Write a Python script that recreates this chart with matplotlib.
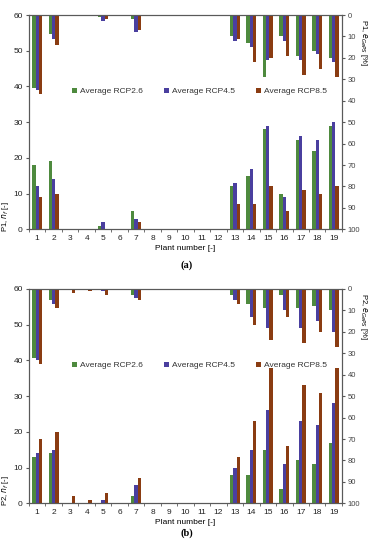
import matplotlib
matplotlib.use("Agg")
import matplotlib.pyplot as plt
import numpy as np

plt.rcParams['font.family'] = ['Liberation Sans', 'DejaVu Sans']

plants = list(range(1, 20))
series = ["Average RCP2.6", "Average RCP4.5", "Average RCP8.5"]
colors = ["#4e8a3e", "#4a3f9f", "#8a3c12"]

# Panel (a) P1: n_f [-] (left axis)
p1_nf_26 = [18, 19, 0, 0, 1, 0, 5, 0, 0, 0, 0, 0, 12, 15, 28, 10, 25, 22, 29]
p1_nf_45 = [12, 14, 0, 0, 2, 0, 3, 0, 0, 0, 0, 0, 13, 17, 29, 9, 26, 25, 30]
p1_nf_85 = [9, 10, 0, 0, 0, 0, 2, 0, 0, 0, 0, 0, 7, 7, 12, 5, 11, 10, 12]
# Panel (a) P1: e [%] (right axis, inverted)
p1_e_26 = [34, 9, 0, 0, 1, 0, 2, 0, 0, 0, 0, 0, 10, 13, 29, 10, 19, 17, 20]
p1_e_45 = [35, 11, 0, 0, 3, 0, 8, 0, 0, 0, 0, 0, 12, 15, 21, 12, 21, 18, 22]
p1_e_85 = [37, 14, 0, 0, 2, 0, 7, 0, 0, 0, 0, 0, 11, 22, 20, 19, 28, 25, 29]

# Panel (b) P2: n_f [-]
p2_nf_26 = [13, 14, 0, 0, 0, 0, 2, 0, 0, 0, 0, 0, 8, 8, 15, 4, 12, 11, 17]
p2_nf_45 = [14, 15, 0, 0, 1, 0, 5, 0, 0, 0, 0, 0, 10, 15, 26, 11, 23, 22, 28]
p2_nf_85 = [18, 20, 2, 1, 3, 0, 7, 0, 0, 0, 0, 0, 13, 23, 38, 16, 33, 31, 38]
# Panel (b) P2: e [%]
p2_e_26 = [32, 5, 0, 0, 0, 0, 3, 0, 0, 0, 0, 0, 3, 7, 9, 3, 9, 8, 10]
p2_e_45 = [33, 7, 0, 0, 1, 0, 4, 0, 0, 0, 0, 0, 5, 13, 18, 10, 18, 15, 20]
p2_e_85 = [35, 9, 2, 1, 3, 0, 5, 0, 0, 0, 0, 0, 7, 17, 24, 13, 25, 20, 27]

fig = plt.figure(figsize=(3.73, 5.50), dpi=100)

axcol = "#595959"

def panel(rect, nf, e, tag):
    ax = fig.add_axes(rect)
    ax2 = ax.twinx()
    x = np.arange(len(plants))
    w = 0.2
    offs = [-w, 0, w]
    for i in range(3):
        ax.bar(x + offs[i], nf[i], width=w, color=colors[i], label=series[i])
        ax2.bar(x + offs[i], e[i], width=w, color=colors[i])
    ax.set_xlim(-0.5, len(plants) - 0.5)
    ax.set_ylim(0, 60)
    ax.set_yticks(range(0, 61, 10))
    ax2.set_ylim(100, 0)
    ax2.set_yticks(range(0, 101, 10))
    ax.set_xticks(x)
    ax.set_xticklabels([str(p) for p in plants])
    ax.set_xticks(np.arange(-0.5, len(plants), 1), minor=True)
    ax.tick_params(axis='x', which='major', length=0, labelsize=6, colors='#222222', pad=4)
    ax.tick_params(axis='x', which='minor', length=2.5, color=axcol, direction='out')
    ax.tick_params(axis='y', labelsize=6, length=2.5, color=axcol, labelcolor='#222222', pad=2)
    ax2.tick_params(axis='y', labelsize=5.5, length=2.5, color=axcol, labelcolor='#444444', pad=1.5)
    for a in (ax, ax2):
        for s in a.spines.values():
            s.set_color(axcol)
            s.set_linewidth(0.8)
    ax.set_xlabel("Plant number [-]", fontsize=6, labelpad=2)
    ax.set_ylabel(tag + ", $n_{f}$ [-]", fontsize=5.5, labelpad=2)
    ax.yaxis.set_label_coords(-0.058, 0.06)
    ax2.set_ylabel(tag + ", $e_{GePS}$ [%]", fontsize=5.5, rotation=270, labelpad=8)
    ax2.yaxis.set_label_coords(1.088, 0.87)
    leg = ax.legend(loc='upper left', bbox_to_anchor=(0.125, 0.68), ncol=3, frameon=False,
                    fontsize=6, handlelength=0.6, handleheight=0.6, handletextpad=0.3,
                    columnspacing=2.6, borderpad=0)
    for t in leg.get_texts():
        t.set_color('#333333')
    return ax, ax2

panel([0.0777, 0.583, 0.839, 0.3897], [p1_nf_26, p1_nf_45, p1_nf_85], [p1_e_26, p1_e_45, p1_e_85], "P1")
panel([0.0777, 0.0849, 0.839, 0.3897], [p2_nf_26, p2_nf_45, p2_nf_85], [p2_e_26, p2_e_45, p2_e_85], "P2")

fig.text(0.5, 0.518, "(a)", ha='center', va='center', fontsize=7.5, fontweight='bold', family='Liberation Serif')
fig.text(0.5, 0.031, "(b)", ha='center', va='center', fontsize=7.5, fontweight='bold', family='Liberation Serif')

fig.savefig("out.png", dpi=100)
